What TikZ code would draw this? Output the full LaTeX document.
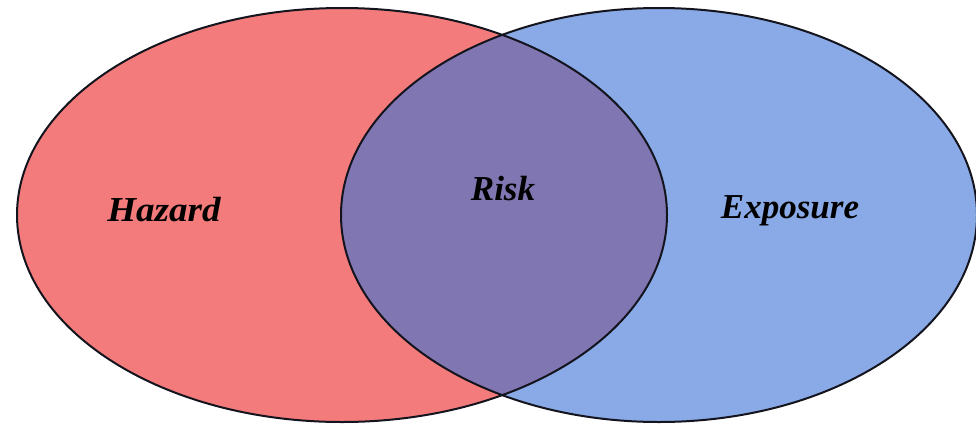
\documentclass[tikz,border=0pt]{standalone}
\usepackage{fontspec}
\setmainfont{Liberation Serif}
\definecolor{hazardred}{RGB}{243,123,123}
\definecolor{exposureblue}{RGB}{137,170,230}
\definecolor{riskpurple}{RGB}{128,118,178}
\definecolor{edge}{RGB}{20,20,30}
\tikzset{
  lbl/.style={font=\fontsize{35}{40}\selectfont\bfseries\itshape, text=black, inner sep=0pt},
  rim/.style={draw=edge, line width=2pt}
}
\begin{document}
\begin{tikzpicture}[x=1pt,y=-1pt]
\useasboundingbox (0,0) rectangle (976,423);
\coordinate (hc) at (342,215);
\coordinate (ec) at (659,215);
\fill[hazardred] (hc) ellipse [x radius=325, y radius=207];
\fill[exposureblue] (ec) ellipse [x radius=318, y radius=207];
\begin{scope}
  \clip (hc) ellipse [x radius=325, y radius=207];
  \fill[riskpurple] (ec) ellipse [x radius=318, y radius=207];
\end{scope}
\draw[rim] (hc) ellipse [x radius=325, y radius=207];
\draw[rim] (ec) ellipse [x radius=318, y radius=207];
\node[lbl, xscale=1.06] (hazard) at (164,210) {Hazard};
\node[lbl] (risk) at (503,189) {Risk};
\node[lbl] (exposure) at (790,211) {Exposure};
\end{tikzpicture}
\end{document}
